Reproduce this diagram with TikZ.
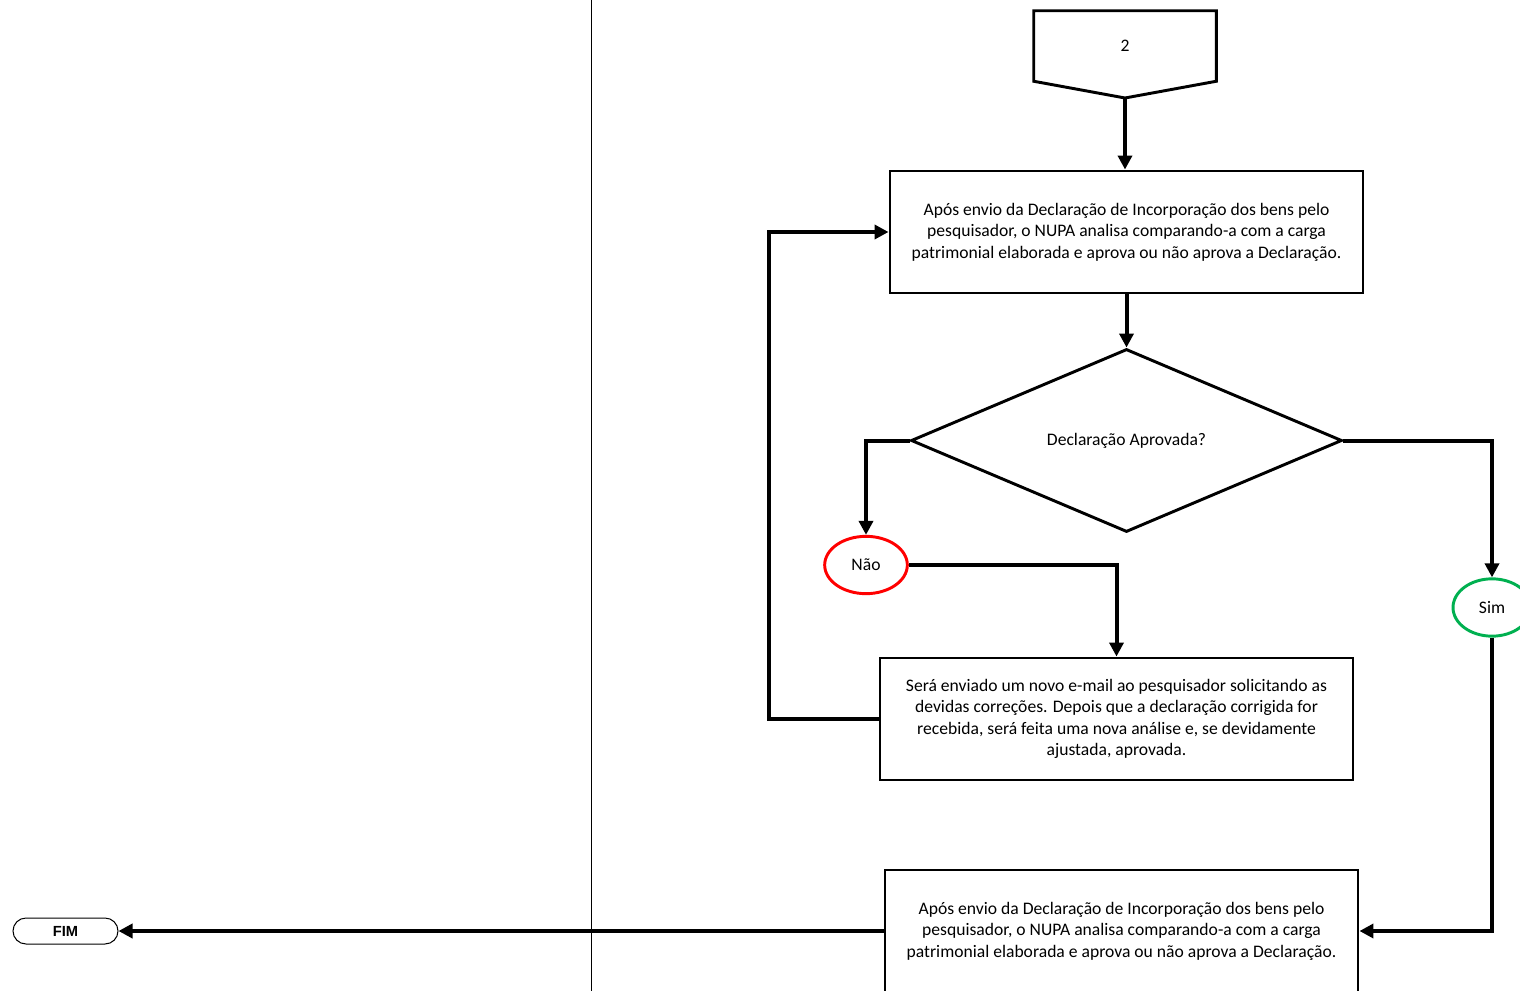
\documentclass[tikz,border=0pt]{standalone}
\usepackage{fontspec}
\setmainfont{Carlito}
\newfontfamily\fimfont{Liberation Sans}
\usetikzlibrary{positioning,shapes.geometric,shapes.misc,arrows.meta}
\definecolor{naored}{RGB}{255,0,0}
\definecolor{simgreen}{RGB}{0,176,80}

\begin{document}
\begin{tikzpicture}[x=0.75pt, y=-0.75pt, font=\fontsize{13.2}{16.1}\selectfont,
box/.style={rectangle, draw, line width=2.2pt, minimum width=354.75pt, minimum height=91.5pt, align=center, inner sep=0pt},
decision/.style={diamond, aspect=2.355, draw, line width=2.2pt, minimum width=323.25pt, minimum height=137.25pt, inner sep=0pt},
answer/.style={ellipse, draw, line width=2.2pt, minimum width=62pt, minimum height=43pt, inner sep=0pt},
flow/.style={line width=3pt, -{Triangle[length=10.5pt,width=10.5pt]}}]
\useasboundingbox (0,0) rectangle (1520,991);
\draw[line width=0.75pt] (591,0) -- (591,991);

\node[minimum width=136.5pt, minimum height=52.5pt, inner sep=0pt] (c2) at (1125,46) {2};
\coordinate (c2tip) at (1125,98);
\draw[line width=2.2pt] (c2.south west) -- (c2.north west) -- (c2.north east) -- (c2.south east) -- (c2tip) -- cycle;

\node[box] (ap1) at (1126.5,232) {Após envio da Declaração de Incorporação dos bens pelo\\ pesquisador, o NUPA analisa comparando-a com a carga\\ patrimonial elaborada e aprova ou não aprova a Declaração.};
\node[decision] (dec) at (1126.5,440.5) {Declaração Aprovada?};
\node[answer, draw=naored] (nao) at (866,565) {Não};
\node[box] (corr) at (1116.5,719) {Será enviado um novo e-mail ao pesquisador solicitando as\\ devidas correções. Depois que a declaração corrigida for\\ recebida, será feita uma nova análise e, se devidamente\\ ajustada, aprovada.};
\node[answer, draw=simgreen, minimum width=58.5pt] (sim) at (1492,607.5) {Sim};
\node[box] (ap2) at (1121.5,931) {Após envio da Declaração de Incorporação dos bens pelo\\ pesquisador, o NUPA analisa comparando-a com a carga\\ patrimonial elaborada e aprova ou não aprova a Declaração.};
\node[rounded rectangle, draw, line width=0.75pt, minimum width=78.75pt, minimum height=19.5pt, inner sep=0pt, font=\fimfont\bfseries\fontsize{11}{13}\selectfont] (fim) at (65.5,931) {FIM};

\draw[flow] (c2tip) -- (c2tip |- ap1.north);
\draw[flow] (ap1.south) -- (dec.north);
\draw[flow] (dec.west) -| (nao.north);
\draw[flow] (nao.east) -| (corr.north);
\draw[flow] (corr.west) -- ++(-110,0) |- (ap1.west);
\draw[flow] (dec.east) -| (sim.north);
\draw[flow] (sim.south) |- (ap2.east);
\draw[flow] (ap2.west) -- (fim.east);
\end{tikzpicture}
\end{document}
